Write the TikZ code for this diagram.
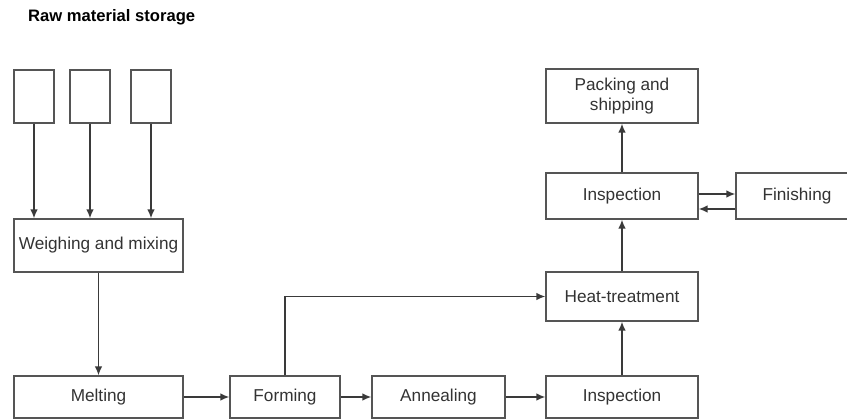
\documentclass[tikz,border=0pt]{standalone}
\usepackage{fontspec}
\setmainfont{Liberation Sans}
\usetikzlibrary{arrows.meta,calc}
\definecolor{ln}{HTML}{3A3A3A}
\definecolor{bx}{HTML}{555555}
\definecolor{tx}{HTML}{333333}
\tikzset{
  box/.style={draw=bx, line width=1.3pt, fill=white, text=tx, inner sep=0pt, align=center,
    font=\fontsize{17.2}{20}\selectfont},
  arr/.style={draw=ln, line width=1.4pt, -{Latex[length=9pt,width=7.5pt]}},
}
\begin{document}
\begin{tikzpicture}[x=1pt,y=-1pt]
\useasboundingbox (0,0) rectangle (847,419);
\node[anchor=base west, inner sep=0pt, text=black, font=\fontsize{16.6}{18}\selectfont\bfseries] (title) at (28,22) {Raw material storage};
% raw material boxes
\node[box, minimum width=40pt, minimum height=53pt] (s1) at (34,96.5) {};
\node[box, minimum width=40pt, minimum height=53pt] (s2) at (90,96.5) {};
\node[box, minimum width=40pt, minimum height=53pt] (s3) at (151,96.5) {};
\node[box, minimum width=169pt, minimum height=53pt] (weigh) at (98.5,245.5) {Weighing and mixing};
\node[box, minimum width=169pt, minimum height=42pt] (melt) at (98.5,397) {Melting};
\node[box, minimum width=110pt, minimum height=42pt] (form) at (285,397) {Forming};
\node[box, minimum width=133pt, minimum height=42pt] (anneal) at (438.5,397) {Annealing};
\node[box, minimum width=152pt, minimum height=42pt] (insp1) at (622,397) {Inspection};
\node[box, minimum width=152pt, minimum height=49pt] (heat) at (622,296.5) {Heat-treatment};
\node[box, minimum width=152pt, minimum height=46pt] (insp2) at (622,196) {Inspection};
\node[box, minimum width=152pt, minimum height=54pt] (pack) at (622,96) {Packing and\\shipping};
\node[box, minimum width=122pt, minimum height=46pt] (fin) at (797,196) {Finishing};
% connectors
\draw[arr] (s1.south) -- (s1.south |- weigh.north);
\draw[arr] (s2.south) -- (s2.south |- weigh.north);
\draw[arr] (s3.south) -- (s3.south |- weigh.north);
\draw[arr] (weigh.south) -- (melt.north);
\draw[arr] (melt.east) -- (form.west);
\draw[arr] (form.east) -- (anneal.west);
\draw[arr] (anneal.east) -- (insp1.west);
\draw[arr] (form.north) |- (heat.west);
\draw[arr] (insp1.north) -- (heat.south);
\draw[arr] (heat.north) -- (insp2.south);
\draw[arr] (insp2.north) -- (pack.south);
\draw[arr] (insp2.east |- 0,194) -- (fin.west |- 0,194);
\draw[arr] (fin.west |- 0,209) -- (insp2.east |- 0,209);
\end{tikzpicture}
\end{document}
